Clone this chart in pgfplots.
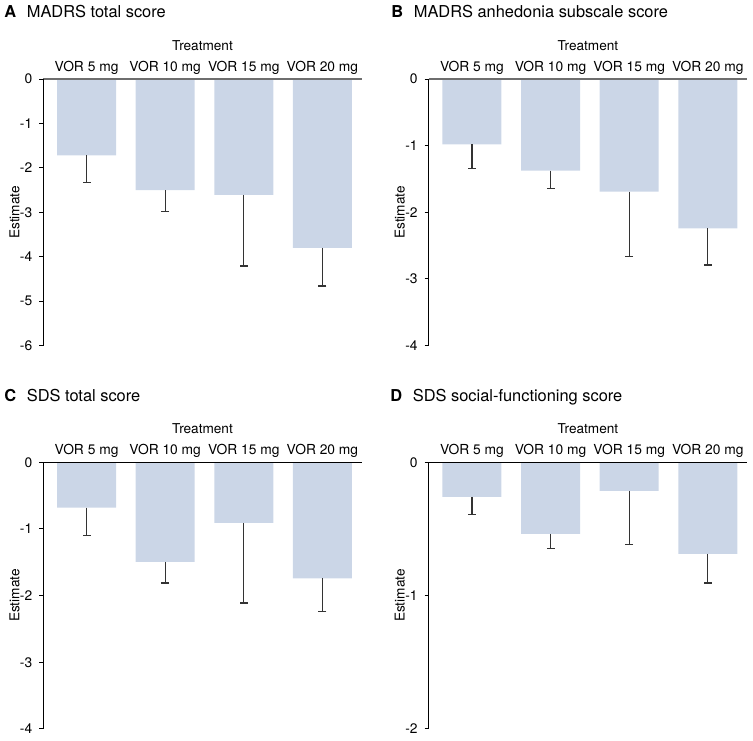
\documentclass[border=0pt]{standalone}
\usepackage{fontspec}
\setmainfont{TeX Gyre Heros}
\usepackage{pgfplots}
\pgfplotsset{compat=1.18}
\usepackage{pgfplotstable}
\definecolor{barc}{HTML}{CBD6E7}
\definecolor{errc}{HTML}{333333}
\definecolor{topgray}{HTML}{6E6E6E}

\pgfplotstableread{
x y e
0 -1.72 0.61
1 -2.50 0.48
2 -2.61 1.60
3 -3.80 0.86
}\dataA
\pgfplotstableread{
x y e
0 -0.98 0.365
1 -1.375 0.265
2 -1.69 0.975
3 -2.24 0.55
}\dataB
\pgfplotstableread{
x y e
0 -0.68 0.415
1 -1.495 0.315
2 -0.91 1.20
3 -1.74 0.50
}\dataC
\pgfplotstableread{
x y e
0 -0.26 0.1325
1 -0.5375 0.11
2 -0.215 0.4025
3 -0.6875 0.2175
}\dataD

\pgfplotsset{
  myax/.style={
    scale only axis, width=159.2pt, height=133.3pt,
    xmin=-0.55, xmax=3.5,
    axis x line*=top, axis y line*=left,
    axis on top,
    tick align=outside,
    major tick length=2pt,
    xtick={0,1,2,3},
    xticklabels={VOR 5 mg,VOR 10 mg,VOR 15 mg,VOR 20 mg},
    xtick style={draw=none},
    xticklabel style={anchor=base, yshift=2pt},
    ytick style={draw=black, line width=0.5pt},
    tick label style={font=\fontsize{6.9}{8}\selectfont},
    y axis line style={draw=black, line width=0.6pt, -},
    xlabel={Treatment},
    ylabel={Estimate},
    label style={font=\fontsize{6.8}{8}\selectfont},
    xlabel style={at={(axis description cs:0.5,1.1088)}, anchor=base},
    ylabel style={at={(axis description cs:-0.0754,0.5)}, anchor=base},
    clip=false,
  },
  mybar/.style={
    ybar, bar width=0.75, fill=barc, draw=none,
    error bars/.cd, y dir=minus, y explicit,
    error bar style={draw=errc, line width=0.6pt},
    error mark options={draw=errc, line width=0.6pt, mark size=2pt, rotate=90},
  },
}

\begin{document}
\begin{tikzpicture}
\useasboundingbox (0,0) rectangle (376.5pt,-370pt);
\tikzset{ttl/.style={anchor=base west, font=\fontsize{8.2}{10}\selectfont, inner sep=0pt}}
\node[ttl] at (2pt,-8.65pt) {\textbf{A}\hspace{5.3pt}MADRS total score};
\node[ttl] at (195.5pt,-8.65pt) {\textbf{B}\hspace{5.3pt}MADRS anhedonia subscale score};
\node[ttl] at (2pt,-200.85pt) {\textbf{C}\hspace{5.3pt}SDS total score};
\node[ttl] at (195pt,-200.85pt) {\textbf{D}\hspace{5.3pt}SDS social-functioning score};

\begin{axis}[myax, at={(21.65pt,-39.5pt)}, anchor=north west,
  ymin=-6, ymax=0, ytick={-6,-5,-4,-3,-2,-1,0}, yticklabels={-6,-5,-4,-3,-2,-1,0},
  x axis line style={draw=topgray, line width=0.7pt, -}]
\addplot[mybar] table[x=x, y=y, y error=e] {\dataA};
\end{axis}

\begin{axis}[myax, at={(214.35pt,-39.5pt)}, anchor=north west,
  ymin=-4, ymax=0, ytick={-4,-3,-2,-1,0}, yticklabels={-4,-3,-2,-1,0},
  x axis line style={draw=topgray, line width=0.7pt, -}]
\addplot[mybar] table[x=x, y=y, y error=e] {\dataB};
\end{axis}

\begin{axis}[myax, at={(21.65pt,-231.15pt)}, anchor=north west,
  ymin=-4, ymax=0, ytick={-4,-3,-2,-1,0}, yticklabels={-4,-3,-2,-1,0},
  x axis line style={draw=black, line width=0.6pt, -}]
\addplot[mybar] table[x=x, y=y, y error=e] {\dataC};
\end{axis}

\begin{axis}[myax, at={(214.35pt,-231.15pt)}, anchor=north west,
  ymin=-2, ymax=0, ytick={-2,-1,0}, yticklabels={-2,-1,0},
  x axis line style={draw=black, line width=0.6pt, -}]
\addplot[mybar] table[x=x, y=y, y error=e] {\dataD};
\end{axis}
\end{tikzpicture}
\end{document}
